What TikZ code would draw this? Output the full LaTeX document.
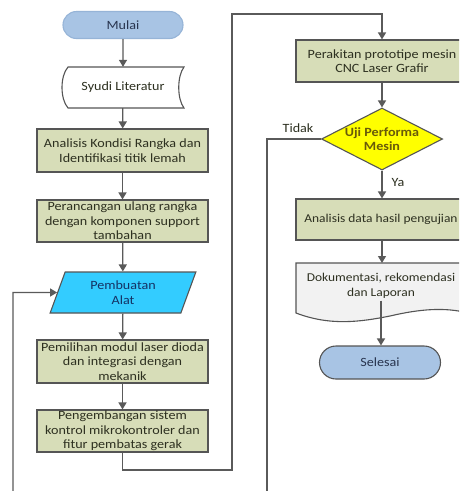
\documentclass[tikz,border=0pt]{standalone}
\usepackage{fontspec}
\setmainfont{Carlito}[FakeStretch=1.12]
\usetikzlibrary{shapes.geometric,shapes.misc,arrows.meta}
\definecolor{boxfill}{RGB}{215,221,184}
\definecolor{boxline}{RGB}{85,85,85}
\definecolor{boxtext}{RGB}{45,48,32}
\definecolor{termfill}{RGB}{168,196,228}
\definecolor{termline}{RGB}{150,180,215}
\definecolor{termtext}{RGB}{40,52,78}
\definecolor{cyanfill}{RGB}{51,204,255}
\definecolor{cyantext}{RGB}{20,50,100}
\definecolor{decfill}{RGB}{255,255,0}
\definecolor{dectext}{RGB}{105,90,10}
\definecolor{docfill}{RGB}{242,242,242}
\definecolor{linecol}{RGB}{90,90,90}
\tikzset{
  procbox/.style={rectangle, draw=boxline, line width=1.1pt, fill=boxfill, text=boxtext,
    minimum width=171pt, minimum height=42pt, inner sep=1pt, align=center},
  termbox/.style={rounded rectangle, line width=1.1pt, minimum width=122pt, minimum height=27pt,
    fill=termfill, text=termtext, inner sep=1pt},
  conn/.style={draw=linecol, line width=1.3pt},
  arr/.style={conn, -{Triangle[width=8pt,length=7pt]}},
  shapeline/.style={draw=boxline, line width=1.1pt},
  smalltext/.style={font=\fontsize{12}{14.5}\selectfont},
}
\begin{document}
\begin{tikzpicture}[x=1pt,y=-1pt, font=\fontsize{12.6}{14.5}\selectfont]
\useasboundingbox (0,0) rectangle (459,491);
\clip (0,0) rectangle (459,491);
\fill[white] (0,0) rectangle (459,491);

% left column
\node[termbox, draw=termline] (mulai) at (123,25) {Mulai};
\draw[shapeline, fill=white] (68,67) -- (184,67) .. controls (177,76) and (177,99) .. (184,108)
  -- (68,108) .. controls (60,99) and (60,76) .. (68,67) -- cycle;
\node[minimum width=116pt, minimum height=41pt, inner sep=0pt, text=boxtext] (syudi) at (123,87.5) {Syudi Literatur};
\node[procbox, minimum height=43pt] (analisis) at (122.5,150.5) {Analisis Kondisi Rangka dan\\Identifikasi titik lemah};
\node[procbox] (perancangan) at (122.5,221) {Perancangan ulang rangka\\dengan komponen support\\tambahan};
\node[trapezium, trapezium stretches=true, trapezium left angle=70, trapezium right angle=110,
  minimum width=146pt, minimum height=41pt, inner sep=0pt, draw=boxline, line width=1.1pt,
  fill=cyanfill, text=cyantext, align=center] (pembuatan) at (123,292.5) {Pembuatan\\Alat};
\node[procbox, minimum height=43pt] (pemilihan) at (122.5,361.5) {Pemilihan modul laser dioda\\dan integrasi dengan\\mekanik};
\node[procbox] (pengembangan) at (122.5,431) {Pengembangan sistem\\kontrol mikrokontroler dan\\fitur pembatas gerak};

% right column
\node[procbox, minimum width=172pt] (perakitan) at (382,61) {Perakitan prototipe mesin\\CNC Laser Grafir};
\node[diamond, aspect=2, minimum width=120pt, minimum height=62pt, inner sep=0pt, draw=boxline,
  line width=1.1pt, fill=decfill, text=dectext, font=\fontsize{12.6}{14.5}\selectfont\bfseries, align=center] (uji) at (382,139) {Uji Performa\\Mesin};
\node[procbox, smalltext, minimum width=170pt, minimum height=41pt] (analisisdata) at (381,219.5) {Analisis data hasil pengujian};
\draw[shapeline, fill=docfill] (296,263) -- (468,263) -- (468,313)
  .. controls (445,307) and (420,309) .. (390,316)
  .. controls (360,322) and (330,326) .. (296,313) -- cycle;
\node[smalltext, align=center, text=boxtext, inner sep=2pt] (dok) at (381,286) {Dokumentasi, rekomendasi\\dan Laporan};
\node[termbox, draw=boxline, minimum width=123pt, minimum height=33pt] (selesai) at (380,362.5) {Selesai};

% labels
\node[text=boxtext] (tidak) at (298,128) {Tidak};
\node[text=boxtext] (ya) at (398,182) {Ya};

% coordinates
\coordinate (doktop) at (382,263);
\coordinate (c1) at (232,470);
\coordinate (c2) at (232,14);
\coordinate (t1) at (267,139);
\coordinate (t2) at (267,495);
\coordinate (l1) at (13,495);
\coordinate (l2) at (13,292.5);

% connectors
\draw[arr] (mulai) -- (syudi);
\draw[arr] (syudi) -- (analisis);
\draw[arr] (analisis) -- (perancangan);
\draw[arr] (perancangan) -- (pembuatan);
\draw[arr] (pembuatan) -- (pemilihan);
\draw[arr] (pemilihan) -- (pengembangan);
\draw[arr] (pengembangan.south) |- (c1) -- (c2) -| (perakitan.north);
\draw[arr] (perakitan) -- (uji);
\draw[arr] (uji) -- (analisisdata.north -| uji.south);
\draw[arr] (analisisdata.south -| doktop) -- (doktop);
\draw[arr] (dok.south) -- (dok.south |- selesai.north);
\draw[conn] (uji.west) -- (t1) -- (t2);
\draw[arr] (l1) -- (l2) -- (pembuatan.west);
\end{tikzpicture}
\end{document}
